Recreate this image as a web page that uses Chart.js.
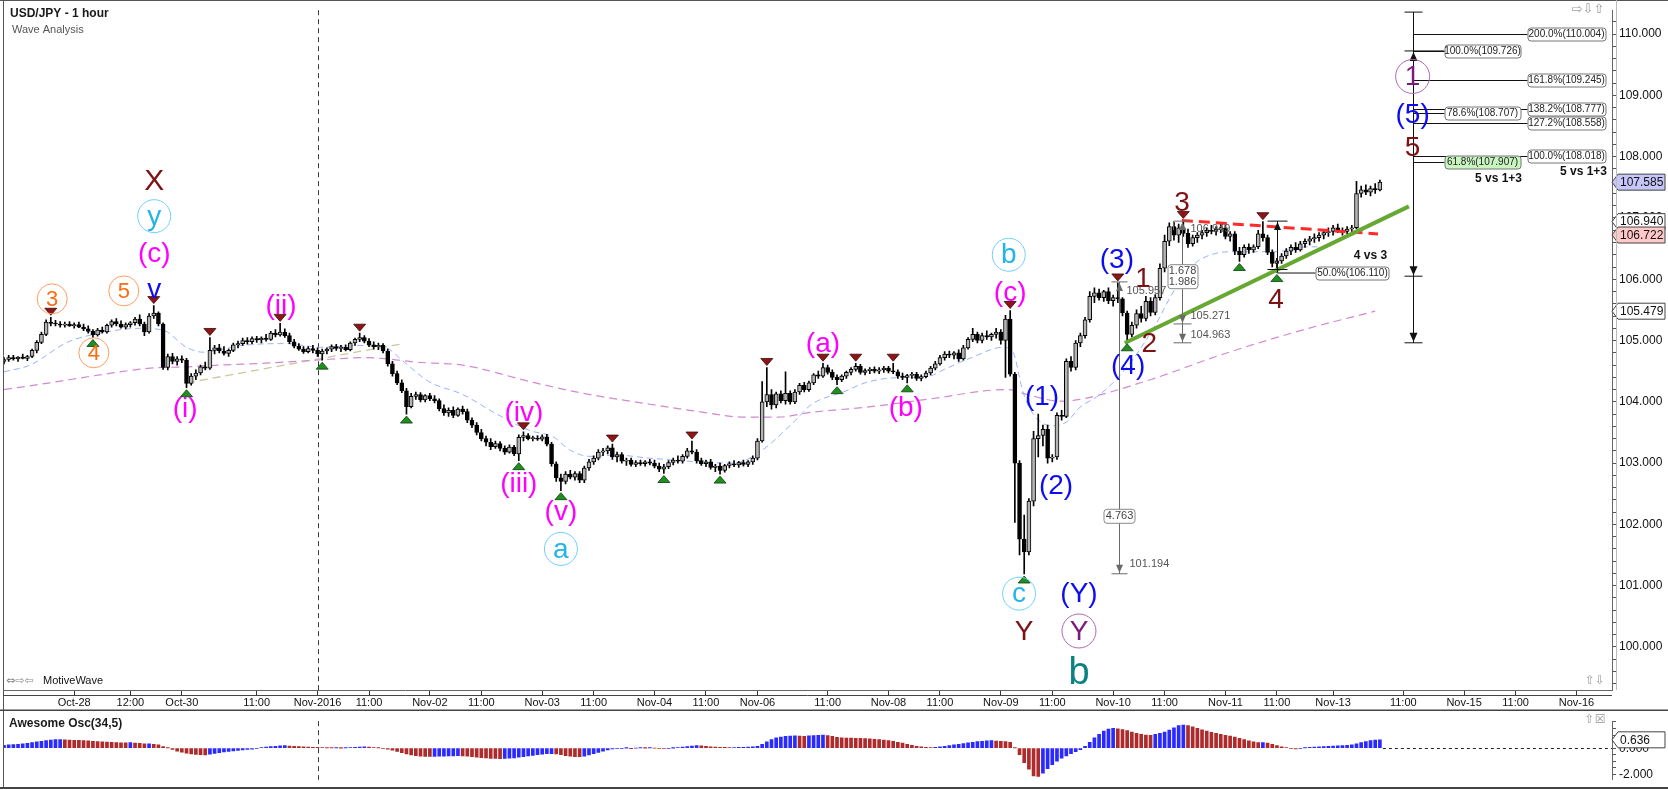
<!DOCTYPE html>
<html>
<head>
<meta charset="utf-8">
<title>USD/JPY - 1 hour</title>
<script src="https://cdn.jsdelivr.net/npm/chart.js@4.4.1/dist/chart.umd.min.js"></script>
<style>
  html, body { margin: 0; padding: 0; background: #fff; }
  #wrap { position: relative; width: 1668px; height: 790px; overflow: hidden; background: #fff; }
  canvas { position: absolute; left: 0; }
  #mainChart { top: 0; }
  #oscChart { top: 711px; }
</style>
</head>
<body>
<div id="wrap">
  <canvas id="mainChart" width="1668" height="711"></canvas>
  <canvas id="oscChart" width="1668" height="79"></canvas>
</div>
<script>
// time axis: one slot per hourly bar, labels where the platform printed them
const tickPos = [15, 27, 38, 54, 67, 78, 91, 102, 115, 126, 139, 150, 161, 176, 189, 200, 213, 224, 237, 248, 261, 272, 284, 299, 312, 323, 336];
const tickText = ["Oct-28", "12:00", "Oct-30", "11:00", "Nov-2016", "11:00", "Nov-02", "11:00", "Nov-03", "11:00", "Nov-04", "11:00", "Nov-06", "11:00", "Nov-08", "11:00", "Nov-09", "11:00", "Nov-10", "11:00", "Nov-11", "11:00", "Nov-13", "11:00", "Nov-15", "11:00", "Nov-16"];
const priceTicks = [100, 101, 102, 103, 104, 105, 106, 107, 108, 109, 110];

// hourly candles
const opens = [
  104.66,104.69,104.72,104.70,104.73,104.71,104.74,104.84,104.97,105.10,
  105.30,105.28,105.27,105.25,105.27,105.24,105.26,105.22,105.19,105.15,
  105.09,105.17,105.14,105.25,105.31,105.27,105.22,105.26,105.29,105.35,
  105.27,105.14,105.40,105.45,105.27,104.56,104.74,104.66,104.70,104.68,
  104.30,104.42,104.47,104.57,104.55,104.84,104.88,104.83,104.79,104.84,
  104.93,104.95,105.00,104.98,105.03,105.01,105.04,105.02,105.12,105.09,
  105.14,105.08,104.98,104.91,104.86,104.82,104.87,104.84,104.78,104.83,
  104.86,104.90,104.87,104.89,104.85,104.96,105.02,105.05,104.99,104.93,
  104.90,104.92,104.83,104.62,104.46,104.31,104.18,103.92,104.09,104.12,
  104.03,104.10,104.05,104.02,103.89,103.82,103.86,103.78,103.88,103.84,
  103.70,103.62,103.50,103.40,103.34,103.27,103.32,103.24,103.18,103.26,
  103.15,103.42,103.45,103.40,103.41,103.39,103.43,103.31,102.99,102.76,
  102.70,102.82,102.77,102.83,102.72,102.92,103.02,103.08,103.18,103.20,
  103.25,103.10,103.14,103.03,103.05,102.98,103.01,102.99,103.02,103.00,
  102.95,102.90,102.94,103.01,103.05,103.03,103.11,103.20,103.18,103.04,
  102.99,103.02,102.93,102.95,102.88,102.96,102.99,102.97,103.01,102.98,
  103.02,103.08,103.36,104.00,104.12,103.95,104.13,104.02,104.14,104.00,
  104.16,104.27,104.20,104.31,104.44,104.42,104.56,104.48,104.40,104.36,
  104.42,104.48,104.53,104.58,104.48,104.51,104.53,104.50,104.52,104.55,
  104.50,104.49,104.42,104.40,104.43,104.45,104.38,104.41,104.47,104.55,
  104.62,104.72,104.78,104.76,104.80,104.70,104.88,105.02,105.10,105.00,
  105.08,105.06,105.10,105.14,105.00,105.35,104.45,103.00,101.76,101.55,
  102.38,103.40,103.45,103.55,103.08,103.10,103.78,103.76,104.66,104.56,
  104.96,105.08,105.34,105.72,105.78,105.70,105.80,105.65,105.70,105.68,
  105.45,105.10,105.25,105.44,105.36,105.64,105.46,105.70,106.18,106.62,
  106.86,106.72,106.84,106.75,106.58,106.68,106.72,106.76,106.80,106.78,
  106.82,106.84,106.70,106.74,106.46,106.40,106.52,106.48,106.53,106.74,
  106.68,106.44,106.26,106.30,106.38,106.46,106.52,106.48,106.58,106.62,
  106.66,106.68,106.72,106.76,106.78,106.84,106.80,106.78,106.82,106.84,
  107.40,107.46,107.42,107.48,107.46
];
const highs = [
  104.72,104.76,104.76,104.74,104.78,104.76,104.86,105.00,105.14,105.34,
  105.38,105.33,105.31,105.30,105.31,105.29,105.30,105.27,105.24,105.18,
  105.20,105.22,105.27,105.34,105.36,105.32,105.29,105.31,105.38,105.42,
  105.30,105.44,105.57,105.47,105.29,104.78,104.79,104.74,104.75,104.71,
  104.46,104.52,104.60,104.65,105.05,104.92,104.94,104.90,104.86,104.96,
  104.99,105.04,105.05,105.06,105.07,105.06,105.10,105.15,105.18,105.28,
  105.19,105.12,105.02,104.95,104.90,104.90,104.92,104.88,104.86,104.88,
  104.93,104.94,104.92,104.93,104.98,105.04,105.12,105.08,105.03,104.98,
  104.96,104.95,104.86,104.66,104.50,104.36,104.22,104.14,104.16,104.15,
  104.12,104.14,104.10,104.05,103.95,103.90,103.92,103.90,103.93,103.88,
  103.74,103.66,103.55,103.44,103.40,103.36,103.35,103.28,103.30,103.29,
  103.46,103.51,103.48,103.44,103.45,103.46,103.47,103.34,103.02,102.82,
  102.86,102.88,102.86,102.86,102.95,103.06,103.12,103.22,103.24,103.28,
  103.31,103.18,103.17,103.08,103.08,103.04,103.05,103.04,103.06,103.05,
  103.00,102.98,103.04,103.08,103.12,103.14,103.24,103.36,103.22,103.08,
  103.05,103.06,102.98,103.00,102.98,103.02,103.04,103.03,103.05,103.04,
  103.12,103.40,104.33,104.56,104.20,104.16,104.18,104.49,104.18,104.20,
  104.30,104.32,104.34,104.46,104.50,104.63,104.60,104.52,104.44,104.44,
  104.50,104.56,104.63,104.61,104.54,104.56,104.57,104.56,104.58,104.58,
  104.63,104.52,104.47,104.45,104.48,104.48,104.44,104.50,104.58,104.66,
  104.76,104.82,104.83,104.82,104.85,104.92,105.05,105.20,105.14,105.12,
  105.16,105.12,105.20,105.18,105.41,105.49,104.48,103.04,102.15,102.42,
  103.52,103.80,103.62,103.62,103.14,103.82,103.86,104.70,104.74,105.00,
  105.12,105.38,105.80,105.86,105.84,105.82,105.86,105.74,105.94,105.70,
  105.48,105.30,105.50,105.56,105.72,105.70,105.75,106.25,106.72,106.92,
  106.93,106.90,106.96,106.82,106.72,106.76,106.80,106.84,106.88,106.86,
  106.90,106.88,106.78,106.78,106.52,106.56,106.58,106.56,106.80,106.94,
  106.72,106.48,106.34,106.42,106.50,106.56,106.60,106.62,106.66,106.70,
  106.74,106.76,106.80,106.84,106.88,106.90,106.84,106.86,106.88,107.60,
  107.52,107.54,107.52,107.56,107.62
];
const lows = [
  104.62,104.66,104.68,104.66,104.70,104.67,104.72,104.80,104.95,105.08,
  105.24,105.24,105.22,105.22,105.23,105.20,105.21,105.16,105.12,105.05,
  105.07,105.12,105.12,105.22,105.24,105.20,105.19,105.22,105.25,105.24,
  105.08,105.12,105.36,105.24,104.53,104.52,104.62,104.60,104.64,104.23,
  104.27,104.36,104.44,104.52,104.53,104.78,104.80,104.76,104.74,104.82,
  104.88,104.92,104.94,104.95,104.97,104.96,104.99,105.00,105.06,105.07,
  105.05,104.95,104.88,104.84,104.79,104.80,104.80,104.74,104.68,104.78,
  104.82,104.84,104.82,104.83,104.83,104.92,104.98,104.96,104.90,104.86,
  104.85,104.80,104.58,104.42,104.28,104.15,103.80,103.90,104.04,104.00,
  104.00,104.02,103.98,103.85,103.78,103.76,103.74,103.76,103.80,103.66,
  103.58,103.46,103.36,103.28,103.22,103.24,103.20,103.14,103.16,103.12,
  103.04,103.36,103.38,103.36,103.37,103.36,103.28,102.95,102.70,102.55,
  102.66,102.74,102.72,102.68,102.68,102.88,102.98,103.05,103.12,103.15,
  103.06,103.02,103.00,102.96,102.95,102.94,102.96,102.95,102.97,102.92,
  102.86,102.83,102.91,102.97,103.00,103.00,103.08,103.15,103.00,102.96,
  102.94,102.90,102.86,102.82,102.85,102.92,102.94,102.93,102.95,102.94,
  102.98,103.05,103.34,103.92,103.88,103.90,103.98,103.96,103.96,103.97,
  104.12,104.16,104.17,104.28,104.38,104.40,104.45,104.36,104.28,104.33,
  104.38,104.44,104.50,104.45,104.44,104.46,104.47,104.46,104.48,104.47,
  104.46,104.38,104.36,104.31,104.38,104.35,104.34,104.39,104.44,104.52,
  104.60,104.68,104.72,104.70,104.66,104.68,104.86,104.98,104.96,104.96,
  105.02,105.00,105.04,104.94,104.40,104.42,102.03,101.50,101.19,101.50,
  102.30,103.10,103.28,103.00,103.02,103.06,103.70,103.74,104.50,104.52,
  104.90,105.04,105.30,105.62,105.66,105.64,105.60,105.56,105.62,105.40,
  104.98,105.06,105.20,105.30,105.32,105.40,105.42,105.66,106.12,106.55,
  106.64,106.60,106.70,106.52,106.54,106.60,106.66,106.70,106.74,106.72,
  106.76,106.66,106.62,106.40,106.29,106.36,106.42,106.44,106.50,106.62,
  106.40,106.20,106.11,106.26,106.34,106.40,106.44,106.46,106.52,106.56,
  106.60,106.62,106.66,106.70,106.72,106.76,106.72,106.74,106.76,106.82,
  107.34,107.38,107.36,107.40,107.44
];
const closes = [
  104.69,104.72,104.70,104.73,104.71,104.74,104.84,104.97,105.10,105.30,
  105.28,105.27,105.25,105.27,105.24,105.26,105.22,105.19,105.15,105.09,
  105.17,105.14,105.25,105.31,105.27,105.22,105.26,105.29,105.35,105.27,
  105.14,105.40,105.45,105.27,104.56,104.74,104.66,104.70,104.68,104.30,
  104.42,104.47,104.57,104.55,104.84,104.88,104.83,104.79,104.84,104.93,
  104.95,105.00,104.98,105.03,105.01,105.04,105.02,105.12,105.09,105.14,
  105.08,104.98,104.91,104.86,104.82,104.87,104.84,104.78,104.83,104.86,
  104.90,104.87,104.89,104.85,104.96,105.02,105.05,104.99,104.93,104.90,
  104.92,104.83,104.62,104.46,104.31,104.18,103.92,104.09,104.12,104.03,
  104.10,104.05,104.02,103.89,103.82,103.86,103.78,103.88,103.84,103.70,
  103.62,103.50,103.40,103.34,103.27,103.32,103.24,103.18,103.26,103.15,
  103.42,103.45,103.40,103.41,103.39,103.43,103.31,102.99,102.76,102.70,
  102.82,102.77,102.83,102.72,102.92,103.02,103.08,103.18,103.20,103.25,
  103.10,103.14,103.03,103.05,102.98,103.01,102.99,103.02,103.00,102.95,
  102.90,102.94,103.01,103.05,103.03,103.11,103.20,103.18,103.04,102.99,
  103.02,102.93,102.95,102.88,102.96,102.99,102.97,103.01,102.98,103.02,
  103.08,103.36,104.00,104.12,103.95,104.13,104.02,104.14,104.00,104.16,
  104.27,104.20,104.31,104.44,104.42,104.56,104.48,104.40,104.36,104.42,
  104.48,104.53,104.58,104.48,104.51,104.53,104.50,104.52,104.55,104.50,
  104.49,104.42,104.40,104.43,104.45,104.38,104.41,104.47,104.55,104.62,
  104.72,104.78,104.76,104.80,104.70,104.88,105.02,105.10,105.00,105.08,
  105.06,105.10,105.14,105.00,105.35,104.45,103.00,101.76,101.55,102.38,
  103.40,103.45,103.55,103.08,103.10,103.78,103.76,104.66,104.56,104.96,
  105.08,105.34,105.72,105.78,105.70,105.80,105.65,105.70,105.68,105.45,
  105.10,105.25,105.44,105.36,105.64,105.46,105.70,106.18,106.62,106.86,
  106.72,106.84,106.75,106.58,106.68,106.72,106.76,106.80,106.78,106.82,
  106.84,106.70,106.74,106.46,106.40,106.52,106.48,106.53,106.74,106.68,
  106.44,106.26,106.30,106.38,106.46,106.52,106.48,106.58,106.62,106.66,
  106.68,106.72,106.76,106.78,106.84,106.80,106.78,106.82,106.84,107.40,
  107.46,107.42,107.48,107.46,107.585
];

// Awesome Oscillator (34,5), one value per bar
const aoValues = [
  0.22,0.25,0.27,0.30,0.33,0.36,0.42,0.48,0.53,0.58,
  0.62,0.65,0.66,0.64,0.62,0.60,0.59,0.57,0.55,0.53,
  0.51,0.49,0.47,0.45,0.43,0.41,0.40,0.42,0.38,0.36,
  0.33,0.34,0.30,0.25,0.12,0.03,-0.10,-0.22,-0.30,-0.38,
  -0.44,-0.48,-0.50,-0.51,-0.46,-0.40,-0.34,-0.29,-0.24,-0.20,
  -0.16,-0.13,-0.10,-0.07,-0.03,0.05,0.09,0.12,0.15,0.18,
  0.19,0.17,0.15,0.13,0.11,0.09,0.07,0.06,0.04,0.03,
  0.02,0.03,0.01,0.02,0.05,0.07,0.09,0.10,0.08,0.05,
  0.02,-0.02,-0.08,-0.15,-0.24,-0.34,-0.44,-0.52,-0.57,-0.60,
  -0.62,-0.63,-0.62,-0.61,-0.60,-0.59,-0.58,-0.57,-0.58,-0.61,
  -0.64,-0.68,-0.71,-0.74,-0.77,-0.78,-0.79,-0.78,-0.76,-0.73,
  -0.69,-0.64,-0.59,-0.54,-0.49,-0.45,-0.42,-0.41,-0.44,-0.50,
  -0.56,-0.61,-0.64,-0.65,-0.60,-0.52,-0.42,-0.32,-0.22,-0.13,
  -0.06,-0.03,-0.02,0.01,-0.01,0.00,0.02,0.01,0.02,0.00,
  -0.02,-0.03,-0.02,0.01,0.05,0.09,0.13,0.17,0.20,0.18,
  0.14,0.11,0.09,0.07,0.06,0.05,0.05,0.06,0.07,0.08,
  0.10,0.15,0.30,0.48,0.65,0.78,0.85,0.90,0.92,0.93,
  0.92,0.91,0.93,0.96,0.98,1.00,0.96,0.90,0.82,0.79,
  0.77,0.76,0.75,0.74,0.73,0.71,0.68,0.65,0.62,0.58,
  0.52,0.45,0.38,0.30,0.22,0.15,0.10,0.06,0.04,0.06,
  0.10,0.15,0.20,0.25,0.30,0.35,0.40,0.45,0.50,0.53,
  0.56,0.58,0.54,0.52,0.50,0.44,0.02,-0.50,-1.10,-1.60,
  -2.10,-2.15,-1.90,-1.55,-1.25,-0.98,-0.75,-0.58,-0.42,-0.26,
  -0.12,0.15,0.45,0.78,1.05,1.30,1.45,1.50,1.48,1.42,
  1.33,1.22,1.12,1.05,1.00,0.98,1.05,1.12,1.22,1.38,
  1.55,1.72,1.76,1.72,1.62,1.50,1.40,1.30,1.20,1.12,
  1.05,0.98,0.92,0.85,0.75,0.65,0.56,0.48,0.42,0.43,
  0.38,0.30,0.20,0.10,0.04,-0.03,-0.06,-0.02,0.03,0.06,
  0.08,0.10,0.12,0.14,0.16,0.18,0.20,0.22,0.26,0.33,
  0.42,0.50,0.57,0.62,0.636
];

// moving averages, read at sample bars
const fastMaIdx = [0,5.6,13.5,20.5,29,34,39,42.5,45.5,51,60,67.7,75.4,81.6,85.5,90.8,98,105.3,112.4,117.3,121,125.2,131,138,156,162,169,172.6,179.7,184,190,197.2,201.5,206.4,213.5,215.6,217.7,219.9,224,227,229.9,234.2,240,246,250.2,254.5,258.8,262.4,271.6,278.6,283.3];
const fastMaVal = [104.49,104.60,104.97,105.12,105.20,105.17,104.89,104.81,104.84,104.92,104.95,104.89,104.92,104.88,104.65,104.33,104.12,103.80,103.53,103.43,103.21,103.11,103.13,103.08,103.00,103.21,103.69,103.96,104.17,104.31,104.39,104.41,104.55,104.71,104.89,104.81,104.17,103.80,103.61,103.67,103.91,104.12,104.57,105.25,105.84,106.26,106.42,106.45,106.45,106.53,106.53];
const slowMaIdx = [0,9.8,20.5,31.2,39.1,46,55.8,66.5,77.1,82,87.8,92,98,112.4,123,138,147.6,158.3,165.4,172.6,184,197.2,214.3,218.6,225.6,229.9,244.9,259.8,277.4,293];
const slowMaVal = [104.20,104.31,104.44,104.55,104.57,104.60,104.63,104.68,104.72,104.70,104.65,104.63,104.60,104.33,104.15,103.96,103.85,103.75,103.75,103.83,103.91,104.04,104.20,104.12,104.01,104.04,104.36,104.76,105.17,105.48];

// drawn trend lines (bar, price)
const greenLineIdx = [239.5, 300.2];
const greenLineVal = [104.96, 107.19];
const redLineIdx = [251.7, 293.6];
const redLineVal = [106.96, 106.74];
const oliveLineIdx = [39.1, 85.3];
const oliveLineVal = [104.31, 104.95];

// measured levels
const swingA = [105.957, 101.194];
const swingB = [106.949, 105.271, 104.963];
const swingC = [106.949, 106.110];
const projLevels = [110.36, 109.726, 106.05, 104.963];
const fibOuter = [["200.0%", 110.004], ["161.8%", 109.245], ["138.2%", 108.777], ["127.2%", 108.558], ["100.0%", 108.018]];
const fibInner = [["100.0%", 109.726], ["78.6%", 108.707], ["61.8%", 107.907]];
const tagLevels = [107.585, 106.940, 106.722, 105.479];

// swing markers (bar index)
const topMarks = [10, 32, 44, 59, 76, 111, 130, 147, 163, 175, 182, 190, 215, 238, 252, 269];
const bottomMarks = [19, 39, 68, 86, 110, 119, 141, 153, 178, 193, 218, 240, 264, 272];

// wave count labels: text, bar, price, style key
const waveLabels = [
  ["X", 32.1, 107.61, "dr"], ["y", 32.1, 107.03, "cy"], ["(c)", 32.1, 106.42, "mg"], ["v", 32.1, 105.84, "bl"],
  ["5", 25.6, 105.81, "or"], ["3", 10.3, 105.68, "or"], ["4", 19.2, 104.80, "or"],
  ["(ii)", 59.2, 105.57, "mg"], ["(i)", 38.7, 103.90, "mg"], ["(iii)", 110, 102.67, "mg"], ["(iv)", 111.1, 103.83, "mg"],
  ["(v)", 119, 102.21, "mg"], ["a", 119, 101.60, "cy"], ["(a)", 175, 104.96, "mg"], ["(b)", 192.7, 103.91, "mg"],
  ["b", 214.7, 106.40, "cy"], ["(c)", 215, 105.78, "mg"], ["(1)", 221.8, 104.09, "bl"], ["(2)", 224.8, 102.64, "bl"],
  ["c", 216.9, 100.87, "cy"], ["Y", 218, 100.26, "dr"], ["(Y)", 229.7, 100.87, "bl"], ["Y", 229.7, 100.26, "pu"],
  ["b", 229.7, 99.58, "tl"], ["(3)", 237.8, 106.32, "bl"], ["1", 243.4, 106.01, "dr"], ["(4)", 240.2, 104.60, "bl"],
  ["2", 244.7, 104.96, "dr"], ["3", 251.7, 107.26, "dr"], ["4", 271.8, 105.68, "dr"],
  ["1", 301, 109.31, "pu"], ["(5)", 301, 108.70, "bl"], ["5", 301, 108.16, "dr"]
];

const FONT = '"Liberation Sans", Arial, Helvetica, sans-serif';
const ICONS = '"DejaVu Sans", sans-serif';
Chart.defaults.font.family = FONT;

const xMin = -0.214, xMax = 343.6;
const yMin = 99.297, yMax = 110.391;
const anchorIdx = 301;

const styles = {
  dr: { c: "#7d1212", s: 28 },
  mg: { c: "#ff00ff", s: 28 },
  bl: { c: "#0d0df0", s: 28 },
  cy: { c: "#22b4ea", s: 28, ring: "#6fd0ff", r: 16.5 },
  or: { c: "#ff6b10", s: 22, ring: "#ff9d60", r: 15 },
  pu: { c: "#7b1c7b", s: 28, ring: "#b266b2", r: 17 },
  tl: { c: "#0b8282", s: 38 }
};

const pts = (xs, ys) => xs.map((x, k) => ({ x: x, y: ys[k] }));

function seg(ctx, x1, y1, x2, y2) {
  ctx.beginPath(); ctx.moveTo(x1, y1); ctx.lineTo(x2, y2); ctx.stroke();
}
function tri(ctx, p, fill, stroke) {
  ctx.beginPath();
  ctx.moveTo(p[0][0], p[0][1]); ctx.lineTo(p[1][0], p[1][1]); ctx.lineTo(p[2][0], p[2][1]);
  ctx.closePath();
  ctx.fillStyle = fill; ctx.fill();
  if (stroke) { ctx.strokeStyle = stroke; ctx.lineWidth = 0.8; ctx.stroke(); }
}
function text(ctx, t, x, y, font, color, align) {
  ctx.font = font; ctx.fillStyle = color;
  ctx.textAlign = align || "center"; ctx.textBaseline = "middle";
  ctx.fillText(t, x, y);
}
function rbox(ctx, x, y, w, h, fill, stroke) {
  ctx.beginPath();
  ctx.roundRect(x + 0.5, y + 0.5, w, h, 3);
  ctx.fillStyle = fill; ctx.fill();
  ctx.strokeStyle = stroke; ctx.lineWidth = 1; ctx.stroke();
}
function tag(ctx, x, y, t, fill) {
  ctx.beginPath();
  ctx.moveTo(x, y); ctx.lineTo(x + 6, y - 8); ctx.lineTo(x + 53, y - 8);
  ctx.lineTo(x + 53, y + 8); ctx.lineTo(x + 6, y + 8); ctx.closePath();
  ctx.fillStyle = fill; ctx.fill();
  ctx.strokeStyle = "#444"; ctx.lineWidth = 1; ctx.stroke();
  text(ctx, t, x + 8, y + 0.5, "12px " + FONT, "#111", "left");
}
function dividerLine(chart) {
  const { ctx, chartArea: a, scales } = chart;
  const vx = Math.round(scales.x.getPixelForValue(tickPos[4])) + 0.5;
  ctx.save();
  ctx.strokeStyle = "#3a3a3a"; ctx.lineWidth = 1; ctx.setLineDash([5, 4]);
  seg(ctx, vx, a.top, vx, a.bottom);
  ctx.restore();
}

const mainOverlay = {
  id: "mainOverlay",
  beforeDatasetsDraw(chart) { dividerLine(chart); },
  afterDatasetsDraw(chart) {
    const { ctx, scales } = chart;
    const X = v => scales.x.getPixelForValue(v);
    const Y = v => scales.y.getPixelForValue(v);
    ctx.save();

    topMarks.forEach(k => {
      const cx = X(k), ty = Y(highs[k]) - 2;
      tri(ctx, [[cx, ty], [cx - 6, ty - 7], [cx + 6, ty - 7]], "#8e1515", "#3a0a0a");
    });
    bottomMarks.forEach(k => {
      const cx = X(k), ty = Y(lows[k]) + 2;
      tri(ctx, [[cx, ty], [cx - 6, ty + 7], [cx + 6, ty + 7]], "#1f8f1f", "#0c3d0c");
    });

    const small = "11px " + FONT;
    // swing A: (3) top to c bottom
    ctx.strokeStyle = "#6a6a6a"; ctx.lineWidth = 1;
    const m1 = Math.round(X(238.2)) + 0.5, t1 = Y(swingA[0]), b1 = Y(swingA[1]);
    seg(ctx, m1, t1, m1, b1);
    seg(ctx, m1 - 8, t1, m1 + 8, t1);
    seg(ctx, m1 - 8, b1, m1 + 8, b1);
    tri(ctx, [[m1, t1 + 1], [m1 - 3.5, t1 + 9], [m1 + 3.5, t1 + 9]], "#6a6a6a");
    tri(ctx, [[m1, b1 - 1], [m1 - 3.5, b1 - 9], [m1 + 3.5, b1 - 9]], "#6a6a6a");
    rbox(ctx, m1 - 16, Y(102.14) - 7, 31, 14, "#fff", "#888");
    text(ctx, (swingA[0] - swingA[1]).toFixed(3), m1, Y(102.14) + 0.5, small, "#444");
    text(ctx, swingA[0].toFixed(3), m1 + 7, t1 + 9, small, "#555", "left");
    text(ctx, swingA[1].toFixed(3), m1 + 10, b1 - 10, small, "#555", "left");

    // swing B: 3 top to retracement levels
    const m2 = Math.round(X(251.7)) + 0.5, t2 = Y(swingB[0]);
    ctx.strokeStyle = "#6a6a6a";
    seg(ctx, m2, t2, m2, Y(swingB[2]));
    seg(ctx, m2 - 9, t2, m2 + 8, t2);
    seg(ctx, m2 - 9, t2, m2 - 9, t2 + 9);
    tri(ctx, [[m2, t2 + 1], [m2 - 3.5, t2 + 9], [m2 + 3.5, t2 + 9]], "#6a6a6a");
    [swingB[1], swingB[2]].forEach(v => {
      const yy = Y(v);
      seg(ctx, m2 - 9, yy, m2 + 9, yy);
      tri(ctx, [[m2, yy - 1], [m2 - 3.5, yy - 9], [m2 + 3.5, yy - 9]], "#6a6a6a");
      text(ctx, v.toFixed(3), m2 + 8, yy - 8, small, "#555", "left");
    });
    text(ctx, swingB[0].toFixed(3), m2 + 8, t2 + 8, small, "#555", "left");
    const by = Y(106.05);
    rbox(ctx, m2 - 15, by - 12, 30, 24, "#fff", "#888");
    text(ctx, (swingB[0] - swingB[1]).toFixed(3), m2, by - 5, small, "#444");
    text(ctx, (swingB[0] - swingB[2]).toFixed(3), m2, by + 6, small, "#444");

    // swing C: 4 vs 3
    const m3 = Math.round(X(272)) + 0.5, t3 = Y(swingC[0]), b3 = Y(swingC[1]);
    ctx.strokeStyle = "#111";
    seg(ctx, m3, t3, m3, b3);
    seg(ctx, m3 - 10, t3, m3 + 10, t3);
    seg(ctx, m3 - 10, b3 - 3, m3 + 10, b3 - 3);
    tri(ctx, [[m3, t3 + 1], [m3 - 3.5, t3 + 9], [m3 + 3.5, t3 + 9]], "#111");
    seg(ctx, m3, b3 + 0.5, m3 + 38, b3 + 0.5);
    rbox(ctx, m3 + 38, b3 - 6, 73, 13, "#fff", "#777");
    text(ctx, "50.0%(" + swingC[1].toFixed(3) + ")", m3 + 75, b3 + 1, "10px " + FONT, "#222");
    text(ctx, "4 vs 3", m3 + 93, Y(106.38), "bold 12px " + FONT, "#111");

    // projection ruler with fib targets
    const ax = Math.round(X(anchorIdx)) + 0.5;
    ctx.strokeStyle = "#111"; ctx.lineWidth = 1;
    seg(ctx, ax, Y(projLevels[0]), ax, Y(projLevels[3]));
    seg(ctx, ax - 9, Y(projLevels[0]), ax + 9, Y(projLevels[0]));
    const p1 = Y(projLevels[1]);
    seg(ctx, ax - 9, p1, ax + 31, p1);
    tri(ctx, [[ax, p1 + 1], [ax - 4, p1 + 10], [ax + 4, p1 + 10]], "#111");
    [projLevels[2], projLevels[3]].forEach(v => {
      const yy = Y(v);
      seg(ctx, ax - 9, yy, ax + 9, yy);
      tri(ctx, [[ax, yy - 1], [ax - 4, yy - 10], [ax + 4, yy - 10]], "#111");
    });
    fibOuter.forEach(f => {
      const yy = Math.round(Y(f[1])) + 0.5;
      ctx.strokeStyle = "#111";
      seg(ctx, ax, yy, ax + 114, yy);
      rbox(ctx, ax + 114, yy - 7, 78, 13, "#fff", "#777");
      text(ctx, f[0] + "(" + f[1].toFixed(3) + ")", ax + 153, yy, "10px " + FONT, "#222");
    });
    fibInner.forEach(f => {
      const yy = Math.round(Y(f[1])) + 0.5;
      ctx.strokeStyle = "#111";
      seg(ctx, ax, yy, ax + 31, yy);
      rbox(ctx, ax + 31, yy - 7, 76, 13, f[0] === "61.8%" ? "#c8f5c0" : "#fff", "#777");
      text(ctx, f[0] + "(" + f[1].toFixed(3) + ")", ax + 69, yy, "10px " + FONT, "#222");
    });
    text(ctx, "5 vs 1+3", ax + 85, Y(107.64), "bold 12px " + FONT, "#111");
    text(ctx, "5 vs 1+3", ax + 170, Y(107.75), "bold 12px " + FONT, "#111");

    // wave count
    waveLabels.forEach(w => {
      const st = styles[w[3]], x = X(w[1]), y = Y(w[2]);
      if (st.ring) {
        ctx.beginPath(); ctx.arc(x, y, st.r, 0, Math.PI * 2);
        ctx.strokeStyle = st.ring; ctx.lineWidth = 1; ctx.stroke();
      }
      const size = w[0] === "X" ? 30 : st.s;
      text(ctx, w[0], x, y + 1, size + "px " + FONT, st.c);
    });
    ctx.restore();
  },
  afterDraw(chart) {
    const { ctx, chartArea: a, scales } = chart;
    const Y = v => scales.y.getPixelForValue(v);
    ctx.save();
    const fills = ["#c6c6fa", "#ffffff", "#ffc9c9", "#ffffff"];
    tagLevels.forEach((v, k) => tag(ctx, a.right, Y(v), v.toFixed(3), fills[k]));

    text(ctx, "USD/JPY - 1 hour", 10, 14, "bold 12px " + FONT, "#1a1a1a", "left");
    text(ctx, "Wave Analysis", 12, 30, "11px " + FONT, "#555", "left");
    text(ctx, "\u21E8\u21E9\u21E7", 1588, 10, "13px " + ICONS, "#999");
    text(ctx, "\u21D4\u21E8\u21E6", 6, 681, "11px " + ICONS, "#888", "left");
    text(ctx, "MotiveWave", 43, 681, "11px " + FONT, "#111", "left");
    text(ctx, "\u21E7\u21E9", 1595, 681, "12px " + ICONS, "#999");

    ctx.strokeStyle = "#555"; ctx.lineWidth = 1;
    seg(ctx, 3.5, 0, 3.5, 711);
    seg(ctx, 0, 0.5, 1668, 0.5);
    ctx.strokeStyle = "#bbb";
    seg(ctx, a.right + 4.5, 0, a.right + 4.5, a.bottom);
    ctx.strokeStyle = "#444";
    seg(ctx, 3, a.bottom + 5.5, a.right, a.bottom + 5.5);
    ctx.lineWidth = 1.5;
    seg(ctx, 0, 710.25, 1668, 710.25);
    ctx.restore();
  }
};

const oscOverlay = {
  id: "oscOverlay",
  beforeDatasetsDraw(chart) { dividerLine(chart); },
  afterDatasetsDraw(chart) {
    const { ctx, chartArea: a, scales } = chart;
    const zy = Math.round(scales.y.getPixelForValue(0)) + 0.5;
    ctx.save();
    ctx.strokeStyle = "#222"; ctx.lineWidth = 1; ctx.setLineDash([3, 3]);
    seg(ctx, scales.x.getPixelForValue(aoValues.length - 1) + 3, zy, a.right, zy);
    ctx.restore();
  },
  afterDraw(chart) {
    const { ctx, chartArea: a, scales } = chart;
    ctx.save();
    tag(ctx, a.right, scales.y.getPixelForValue(aoValues[aoValues.length - 1]), aoValues[aoValues.length - 1].toFixed(3), "#fff");
    text(ctx, "Awesome Osc(34,5)", 9, 13, "bold 12px " + FONT, "#1a1a1a", "left");
    text(ctx, "\u21E7\u2612", 1595, 9, "12px " + ICONS, "#999");
    ctx.strokeStyle = "#555"; ctx.lineWidth = 1;
    seg(ctx, 3.5, 0, 3.5, 78);
    ctx.strokeStyle = "#444"; ctx.lineWidth = 2;
    seg(ctx, 0, 77, 1668, 77);
    ctx.restore();
  }
};

const bodyColors = opens.map((o, k) => (closes[k] >= o ? "#b4b4b4" : "#000000"));
const aoColors = aoValues.map((v, k) => (k === 0 || v >= aoValues[k - 1] ? "#2a2aff" : "#ad2b2b"));

new Chart(document.getElementById("mainChart"), {
  type: "bar",
  data: {
    datasets: [
      { type: "line", data: pts(greenLineIdx, greenLineVal), borderColor: "#67a833", borderWidth: 4, pointRadius: 0, order: -1 },
      { type: "line", data: pts(redLineIdx, redLineVal), borderColor: "#ff2b2b", borderWidth: 3, borderDash: [11, 6], pointRadius: 0, order: -1 },
      { type: "bar", data: opens.map((o, k) => ({ x: k, y: [o, closes[k]] })), backgroundColor: bodyColors, borderColor: "#000", borderWidth: 1, borderSkipped: false, barThickness: 4, minBarLength: 1, grouped: false, order: 0 },
      { type: "bar", data: lows.map((l, k) => ({ x: k, y: [l, highs[k]] })), backgroundColor: "#000", barThickness: 1, grouped: false, order: 1 },
      { type: "line", data: pts(fastMaIdx, fastMaVal), borderColor: "#98b0ff", borderWidth: 1, borderDash: [6, 4], pointRadius: 0, cubicInterpolationMode: "monotone", order: 2 },
      { type: "line", data: pts(slowMaIdx, slowMaVal), borderColor: "#d08ad0", borderWidth: 1.2, borderDash: [8, 5], pointRadius: 0, cubicInterpolationMode: "monotone", order: 2 },
      { type: "line", data: pts(oliveLineIdx, oliveLineVal), borderColor: "#cbc89a", borderWidth: 1.3, borderDash: [8, 5], pointRadius: 0, order: 2 }
    ]
  },
  options: {
    responsive: false,
    animation: false,
    devicePixelRatio: 1,
    events: [],
    layout: { padding: { left: 3, top: 0, right: 0, bottom: 0 } },
    plugins: { legend: { display: false }, tooltip: { enabled: false } },
    scales: {
      x: {
        type: "linear", min: xMin, max: xMax, offset: false,
        afterBuildTicks: ax => { ax.ticks = tickPos.map(v => ({ value: v })); },
        afterFit: ax => { ax.height = 21; },
        ticks: { autoSkip: false, maxRotation: 0, padding: 1, color: "#111", font: { size: 11 }, callback: (v, i) => tickText[i] },
        grid: { drawOnChartArea: false, offset: false, tickLength: 5, color: "#333" },
        border: { display: true, color: "#666" }
      },
      y: {
        position: "right", min: yMin, max: yMax,
        afterBuildTicks: ax => {
          const t = [];
          for (let v = 99.4; v < 110.3; v += 0.2) t.push({ value: Math.round(v * 10) / 10 });
          ax.ticks = t;
        },
        afterFit: ax => { ax.width = 56; },
        ticks: { autoSkip: false, padding: 3, color: "#111", font: { size: 12 }, callback: v => (priceTicks.includes(v) ? v.toFixed(3) : "") },
        grid: { drawOnChartArea: false, tickLength: 4, color: "#555" },
        border: { display: true, color: "#666" }
      }
    }
  },
  plugins: [mainOverlay]
});

new Chart(document.getElementById("oscChart"), {
  type: "bar",
  data: {
    datasets: [
      { data: aoValues.map((v, k) => ({ x: k, y: v })), backgroundColor: aoColors, borderWidth: 0, barThickness: 3, grouped: false }
    ]
  },
  options: {
    responsive: false,
    animation: false,
    devicePixelRatio: 1,
    events: [],
    layout: { padding: { left: 3, top: 0, right: 0, bottom: 3 } },
    plugins: { legend: { display: false }, tooltip: { enabled: false } },
    scales: {
      x: { type: "linear", min: xMin, max: xMax, offset: false, display: false },
      y: {
        position: "right", min: -2.40, max: 2.05,
        afterBuildTicks: ax => { ax.ticks = [-2, -1.5, -1, -0.5, 0, 0.5, 1, 1.5, 2].map(v => ({ value: v })); },
        afterFit: ax => { ax.width = 56; },
        ticks: { autoSkip: false, padding: 3, color: "#111", font: { size: 12 }, callback: v => (v === 0 || v === -2 ? v.toFixed(3) : "") },
        grid: { drawOnChartArea: false, tickLength: 4, color: "#555" },
        border: { display: true, color: "#666" }
      }
    }
  },
  plugins: [oscOverlay]
});
</script>
</body>
</html>
